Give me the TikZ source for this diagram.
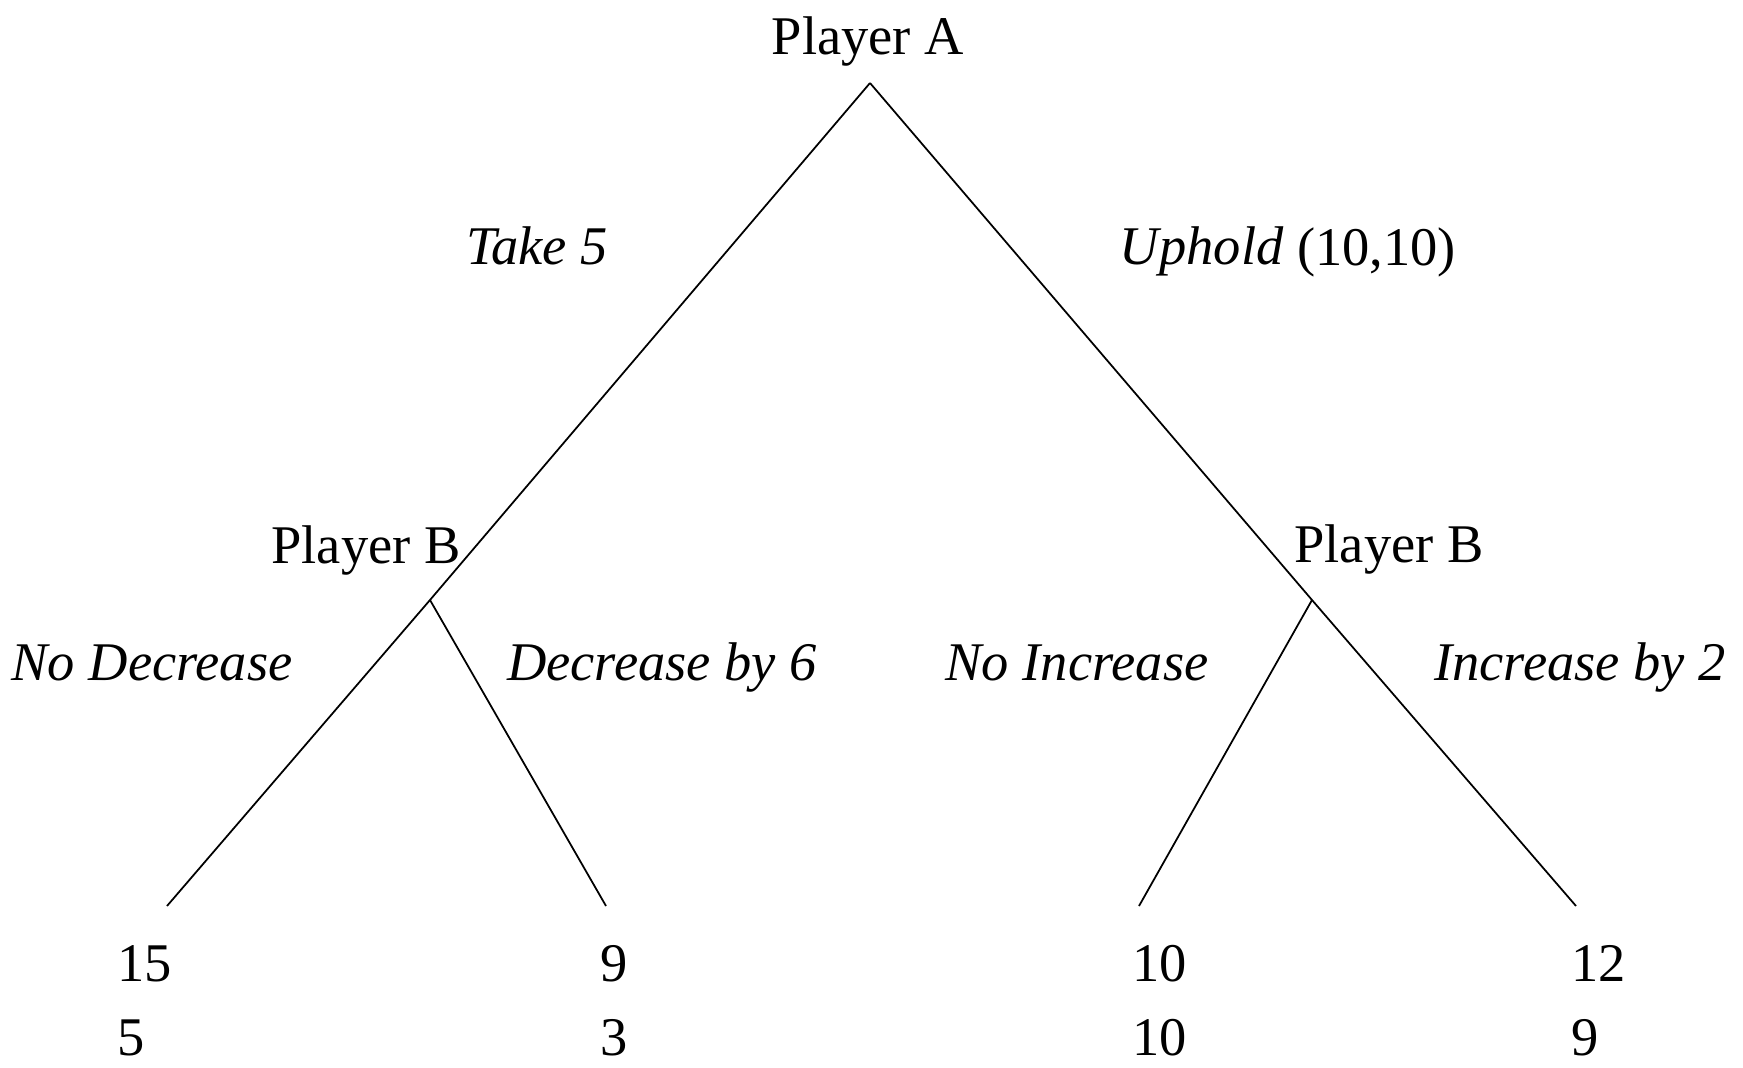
\documentclass[tikz,border=0pt]{standalone}
\usepackage{fontspec}
\setmainfont{Liberation Serif}

\begin{document}
\begin{tikzpicture}[
      player/.style={
        font=\fontsize{15.5}{19}\selectfont, anchor=base, inner sep=0pt
      },
      move/.style={
        font=\fontsize{15.5}{19}\selectfont\itshape, anchor=base, inner sep=0pt
      },
      payoff/.style={
        font=\fontsize{15.5}{21}\selectfont, align=left,
        anchor=base west, inner sep=0pt
      },
      branch/.style={
        line width=0.5pt, draw=black
      }
    ]

    \useasboundingbox (0,0) rectangle (17.43,10.67);

    % --- Decision points ---
    \coordinate (a)  at (8.70,9.84);
    \coordinate (bl) at (4.30,4.67);
    \coordinate (br) at (13.12,4.67);

    % --- Branch ends ---
    \coordinate (l1) at (1.67,1.61);
    \coordinate (l2) at (6.06,1.61);
    \coordinate (l3) at (11.39,1.61);
    \coordinate (l4) at (15.76,1.61);

    % --- Branches ---
    \draw[branch] (a) -- (bl) -- (l1);
    \draw[branch] (bl) -- (l2);
    \draw[branch] (a) -- (br) -- (l4);
    \draw[branch] (br) -- (l3);

    % --- Players ---
    \node[player] (pA)  at (8.68,10.12) {Player A};
    \node[player] (pBl) at (3.66,5.04)  {Player B};
    \node[player] (pBr) at (13.89,5.05) {Player B};

    % --- Moves ---
    \node[move]   (m1) at (5.37,8.02)  {Take 5};
    \node[player] (m2) at (12.88,8.02) {\textit{Uphold} (10,10)};
    \node[move]   (m3) at (1.52,3.87)  {No Decrease};
    \node[move]   (m4) at (6.62,3.87)  {Decrease by 6};
    \node[move]   (m5) at (10.77,3.87) {No Increase};
    \node[move]   (m6) at (15.80,3.87) {Increase by 2};

    % --- Payoffs (base = last line) ---
    \node[payoff] (u1) at (1.17,0.12)  {15\\5};
    \node[payoff] (u2) at (6.00,0.12)  {9\\3};
    \node[payoff] (u3) at (11.32,0.12) {10\\10};
    \node[payoff] (u4) at (15.71,0.12) {12\\9};

  \end{tikzpicture}
\end{document}
